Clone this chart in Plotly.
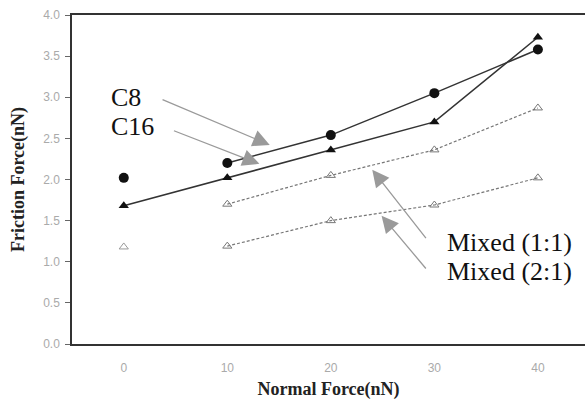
import plotly.graph_objects as go

normal_force = [0, 10, 20, 30, 40]
c8 = [2.02, 2.20, 2.54, 3.05, 3.58]
c16 = [1.68, 2.02, 2.36, 2.70, 3.73]
mixed_11 = [None, 1.70, 2.05, 2.36, 2.87]
mixed_21 = [1.18, 1.19, 1.50, 1.69, 2.02]

x_ticks = [0, 10, 20, 30, 40]
y_ticks = [0.0, 0.5, 1.0, 1.5, 2.0, 2.5, 3.0, 3.5, 4.0]
y_tick_labels = ["0.0", "0.5", "1.0", "1.5", "2.0", "2.5", "3.0", "3.5", "4.0"]

fig = go.Figure()

# C8: isolated first point, line from x=10
fig.add_trace(go.Scatter(x=normal_force[:1], y=c8[:1], mode="markers",
                         marker=dict(symbol="circle", size=10, color="#111"), showlegend=False))
fig.add_trace(go.Scatter(x=normal_force[1:], y=c8[1:], mode="lines+markers",
                         line=dict(color="#333", width=1.5),
                         marker=dict(symbol="circle", size=10, color="#111"), showlegend=False))
# C16
fig.add_trace(go.Scatter(x=normal_force, y=c16, mode="lines+markers",
                         line=dict(color="#333", width=1.5),
                         marker=dict(symbol="triangle-up", size=9, color="#111"), showlegend=False))
# Mixed (1:1)
fig.add_trace(go.Scatter(x=normal_force, y=mixed_11, mode="lines+markers",
                         line=dict(color="#777", width=1.2, dash="3px,2px"),
                         marker=dict(symbol="triangle-up-open", size=8, color="#777",
                                     line=dict(width=1)), showlegend=False))
# Mixed (2:1): isolated first point
fig.add_trace(go.Scatter(x=normal_force[:1], y=mixed_21[:1], mode="markers",
                         marker=dict(symbol="triangle-up-open", size=8, color="#999",
                                     line=dict(width=1)), showlegend=False))
fig.add_trace(go.Scatter(x=normal_force[1:], y=mixed_21[1:], mode="lines+markers",
                         line=dict(color="#777", width=1.2, dash="3px,2px"),
                         marker=dict(symbol="triangle-up-open", size=8, color="#777",
                                     line=dict(width=1)), showlegend=False))

label_font = dict(family="Liberation Serif", size=26, color="#111")
arrows = [
    (14.1, 2.42, 3.6, 2.98),
    (13.1, 2.19, 4.7, 2.60),
    (24.0, 2.12, 29.3, 1.27),
    (24.9, 1.56, 29.3, 0.90),
]
for (x, y, ax, ay) in arrows:
    fig.add_annotation(x=x, y=y, ax=ax, ay=ay, xref="x", yref="y", axref="x", ayref="y",
                       text="", showarrow=True, arrowhead=2, arrowsize=2.6,
                       arrowwidth=1.3, arrowcolor="#9a9a9a")

texts = [
    ("C8", -1.4, 3.0),
    ("C16", -1.4, 2.64),
    ("Mixed (1:1)", 31.0, 1.23),
    ("Mixed (2:1)", 31.0, 0.88),
]
for (t, x, y) in texts:
    fig.add_annotation(x=x, y=y, xref="x", yref="y", text=t, showarrow=False,
                       xanchor="left", yanchor="middle", font=label_font)

fig.update_layout(
    width=585, height=403,
    margin=dict(l=72, r=0, t=15, b=59),
    paper_bgcolor="white", plot_bgcolor="white",
    font=dict(family="Liberation Serif"),
    xaxis=dict(range=[-5, 44.55], tickvals=x_ticks, showgrid=False, zeroline=False,
               automargin=False,
               showline=True, linecolor="#333", linewidth=1.5, mirror=True,
               ticks="", ticklabelstandoff=12,
               tickfont=dict(family="Liberation Sans", size=12, color="#aaa"),
               title=dict(text="<b>Normal Force(nN)</b>", standoff=8,
                          font=dict(family="Liberation Serif", size=18, color="#222"))),
    yaxis=dict(range=[0, 4.0], tickvals=y_ticks, ticktext=y_tick_labels, showgrid=False,
               automargin=False,
               zeroline=False, showline=True, linecolor="#333", linewidth=1.5,
               ticks="outside", ticklen=5, tickcolor="#666", ticklabelstandoff=3,
               tickfont=dict(family="Liberation Sans", size=12, color="#aaa"),
               title=dict(text="<b>Friction Force(nN)</b>", standoff=14,
                          font=dict(family="Liberation Serif", size=18, color="#222"))),
)

fig.write_html("out.html", config={"displayModeBar": False},
               post_script="document.body.style.margin='0';document.body.style.overflow='hidden';")
